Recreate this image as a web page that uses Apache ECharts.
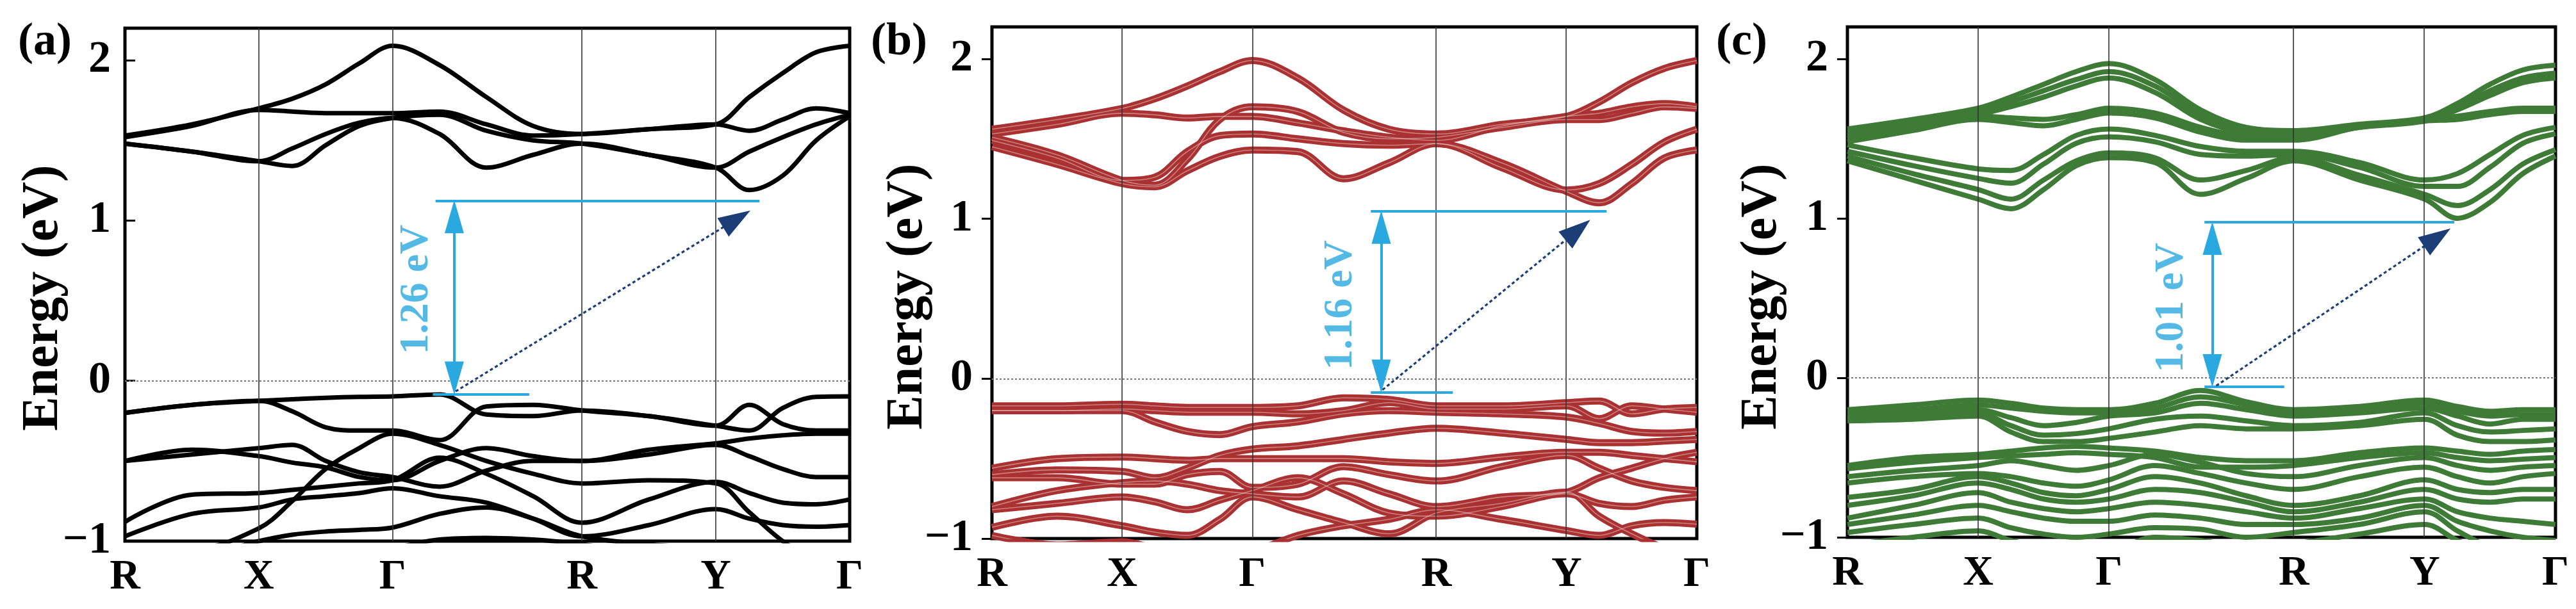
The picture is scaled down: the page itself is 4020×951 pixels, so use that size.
<!DOCTYPE html>
<html><head><meta charset="utf-8">
<script src="https://cdn.jsdelivr.net/npm/echarts@6/dist/echarts.min.js"></script>
<style>html,body{margin:0;padding:0;background:#fff;}#chart{width:4020px;height:951px;}</style>
</head><body><div id="chart"></div>
<script>
// k-path sample points (path length units: R-X=1, X-G=1, G-R=1.414, R-Y=1, Y-G=1)
const K = [0, 0.5, 1, 1.25, 1.5, 1.75, 2, 2.35, 2.7, 3.05, 3.414, 3.914, 4.414, 4.664, 4.914, 5.164, 5.414];
const KPOS = [0, 1, 2, 3.414, 4.414, 5.414];
const KLABELS = ['R', 'X', 'Γ', 'R', 'Y', 'Γ'];
const YTICKS = [-1, 0, 1, 2];
const PANEL_LABELS = ['(a)', '(b)', '(c)'];
const Y_TITLE = 'Energy (eV)';
const COLORS = ['#000000', '#A93131', '#3E7B36'];

// Panel (a) bands
const A_CB = [
  [1.53,1.60,1.70,1.76,1.85,1.98,2.09,1.97,1.77,1.59,1.54,1.57,1.60,1.77,1.92,2.05,2.09],
  [1.52,1.59,1.69,1.68,1.67,1.67,1.67,1.68,1.60,1.53,1.54,1.57,1.60,1.56,1.63,1.70,1.67],
  [1.48,1.43,1.37,1.45,1.54,1.61,1.64,1.54,1.33,1.41,1.48,1.41,1.33,1.19,1.28,1.50,1.65],
  [1.48,1.43,1.37,1.34,1.47,1.59,1.64,1.66,1.56,1.50,1.48,1.41,1.33,1.43,1.52,1.60,1.66]
];
const A_VB = [
  [-0.20,-0.15,-0.125,-0.115,-0.106,-0.10,-0.097,-0.085,-0.21,-0.22,-0.185,-0.22,-0.28,-0.31,-0.17,-0.10,-0.097],
  [-0.20,-0.15,-0.125,-0.19,-0.29,-0.31,-0.31,-0.37,-0.16,-0.15,-0.185,-0.22,-0.28,-0.15,-0.27,-0.31,-0.31],
  [-0.50,-0.43,-0.47,-0.51,-0.54,-0.60,-0.62,-0.50,-0.42,-0.47,-0.50,-0.43,-0.39,-0.36,-0.34,-0.33,-0.33],
  [-0.50,-0.46,-0.42,-0.40,-0.50,-0.57,-0.60,-0.66,-0.56,-0.50,-0.50,-0.46,-0.40,-0.47,-0.55,-0.60,-0.60],
  [-0.88,-0.71,-0.70,-0.68,-0.66,-0.64,-0.62,-0.48,-0.58,-0.72,-0.885,-0.74,-0.63,-0.70,-0.76,-0.77,-0.74],
  [-0.97,-0.83,-0.79,-0.74,-0.72,-0.70,-0.67,-0.72,-0.76,-0.86,-0.97,-0.90,-0.80,-0.86,-0.90,-0.91,-0.90],
  [-1.05,-1.05,-0.92,-0.75,-0.55,-0.42,-0.33,-0.40,-0.50,-0.58,-0.64,-0.62,-0.64,-0.82,-1.00,-1.12,-1.18],
  [-1.10,-1.10,-1.00,-0.96,-0.94,-0.93,-0.915,-0.83,-0.79,-0.86,-0.97,-1.02,-1.05,-1.08,-1.10,-1.10,-1.10],
  [-1.20,-1.15,-1.08,-1.10,-1.12,-1.12,-1.05,-0.99,-0.98,-0.99,-1.02,-1.08,-1.10,-1.10,-1.12,-1.15,-1.15]
];

// Panel (b) bands
const B_CB = [
  [1.56,1.62,1.69,1.75,1.83,1.92,1.99,1.88,1.68,1.56,1.53,1.59,1.64,1.73,1.85,1.94,1.99],
  [1.53,1.59,1.66,1.65,1.63,1.64,1.64,1.60,1.55,1.51,1.49,1.58,1.64,1.66,1.70,1.72,1.70],
  [1.51,1.40,1.24,1.21,1.37,1.62,1.70,1.67,1.54,1.50,1.51,1.57,1.62,1.62,1.66,1.70,1.69],
  [1.45,1.34,1.22,1.20,1.30,1.39,1.43,1.42,1.25,1.35,1.47,1.35,1.17,1.10,1.22,1.38,1.43],
  [1.49,1.38,1.24,1.26,1.42,1.52,1.53,1.50,1.47,1.46,1.47,1.32,1.18,1.22,1.34,1.48,1.56]
];
const B_VB = [
  [-0.17,-0.17,-0.16,-0.17,-0.18,-0.18,-0.18,-0.17,-0.12,-0.13,-0.17,-0.17,-0.15,-0.14,-0.22,-0.19,-0.18],
  [-0.20,-0.20,-0.19,-0.20,-0.21,-0.21,-0.21,-0.22,-0.20,-0.15,-0.19,-0.19,-0.17,-0.25,-0.17,-0.19,-0.21],
  [-0.20,-0.20,-0.20,-0.27,-0.33,-0.35,-0.30,-0.27,-0.22,-0.20,-0.21,-0.22,-0.24,-0.28,-0.33,-0.34,-0.33],
  [-0.56,-0.50,-0.49,-0.50,-0.51,-0.50,-0.50,-0.50,-0.50,-0.52,-0.53,-0.49,-0.46,-0.46,-0.48,-0.50,-0.52],
  [-0.60,-0.57,-0.58,-0.62,-0.56,-0.48,-0.44,-0.42,-0.38,-0.34,-0.31,-0.34,-0.38,-0.40,-0.40,-0.39,-0.38],
  [-0.62,-0.62,-0.66,-0.66,-0.60,-0.58,-0.68,-0.66,-0.55,-0.60,-0.64,-0.55,-0.48,-0.56,-0.64,-0.68,-0.70],
  [-0.80,-0.70,-0.65,-0.64,-0.66,-0.70,-0.72,-0.74,-0.64,-0.72,-0.80,-0.74,-0.71,-0.62,-0.56,-0.50,-0.46],
  [-0.82,-0.78,-0.74,-0.77,-0.82,-0.76,-0.70,-0.62,-0.72,-0.84,-0.86,-0.80,-0.72,-0.78,-0.80,-0.76,-0.74],
  [-0.93,-0.86,-0.92,-0.96,-0.98,-0.88,-0.74,-0.82,-0.90,-0.97,-0.84,-0.78,-0.71,-0.86,-0.97,-1.06,-1.12],
  [-0.98,-1.04,-1.02,-1.06,-1.10,-1.10,-1.08,-0.98,-0.92,-0.88,-0.82,-0.88,-0.95,-0.98,-0.92,-0.90,-0.91]
];

// Panel (c) bands
const C_CB = [
  [1.56,1.62,1.69,1.76,1.84,1.92,1.97,1.87,1.68,1.57,1.55,1.59,1.63,1.72,1.84,1.93,1.96],
  [1.54,1.60,1.67,1.73,1.80,1.87,1.92,1.83,1.65,1.55,1.53,1.58,1.62,1.70,1.80,1.88,1.91],
  [1.52,1.58,1.65,1.70,1.76,1.83,1.88,1.79,1.62,1.53,1.51,1.57,1.61,1.68,1.77,1.85,1.88],
  [1.50,1.57,1.64,1.63,1.62,1.65,1.69,1.66,1.57,1.51,1.50,1.58,1.62,1.64,1.67,1.69,1.69],
  [1.48,1.55,1.62,1.60,1.58,1.62,1.66,1.63,1.54,1.49,1.49,1.57,1.61,1.62,1.65,1.67,1.67],
  [1.46,1.38,1.31,1.30,1.40,1.52,1.56,1.52,1.45,1.42,1.42,1.35,1.24,1.28,1.40,1.52,1.57],
  [1.42,1.33,1.25,1.22,1.34,1.47,1.51,1.48,1.40,1.39,1.40,1.32,1.20,1.20,1.32,1.47,1.53],
  [1.39,1.28,1.18,1.12,1.24,1.36,1.41,1.38,1.24,1.30,1.38,1.27,1.15,1.08,1.18,1.34,1.43],
  [1.36,1.24,1.12,1.06,1.18,1.33,1.38,1.35,1.15,1.25,1.36,1.24,1.12,1.00,1.10,1.28,1.39]
];
const C_VB = [
  [-0.20,-0.17,-0.14,-0.16,-0.19,-0.20,-0.20,-0.16,-0.08,-0.15,-0.20,-0.18,-0.14,-0.18,-0.21,-0.20,-0.20],
  [-0.22,-0.20,-0.17,-0.19,-0.21,-0.22,-0.22,-0.19,-0.12,-0.17,-0.22,-0.20,-0.16,-0.21,-0.24,-0.23,-0.23],
  [-0.25,-0.22,-0.20,-0.25,-0.30,-0.28,-0.24,-0.22,-0.16,-0.20,-0.24,-0.22,-0.19,-0.24,-0.29,-0.26,-0.26],
  [-0.26,-0.24,-0.22,-0.30,-0.36,-0.35,-0.32,-0.26,-0.24,-0.27,-0.30,-0.28,-0.22,-0.30,-0.34,-0.33,-0.32],
  [-0.27,-0.26,-0.24,-0.34,-0.40,-0.40,-0.38,-0.34,-0.30,-0.32,-0.32,-0.30,-0.26,-0.36,-0.40,-0.40,-0.39],
  [-0.55,-0.50,-0.48,-0.46,-0.44,-0.43,-0.44,-0.46,-0.50,-0.52,-0.52,-0.47,-0.44,-0.46,-0.48,-0.46,-0.45],
  [-0.57,-0.53,-0.50,-0.49,-0.48,-0.47,-0.48,-0.50,-0.56,-0.56,-0.55,-0.50,-0.47,-0.50,-0.52,-0.51,-0.50],
  [-0.62,-0.58,-0.55,-0.52,-0.55,-0.58,-0.55,-0.48,-0.53,-0.60,-0.62,-0.55,-0.50,-0.55,-0.58,-0.56,-0.55],
  [-0.66,-0.62,-0.60,-0.62,-0.66,-0.68,-0.64,-0.55,-0.60,-0.66,-0.70,-0.62,-0.56,-0.62,-0.66,-0.62,-0.60],
  [-0.75,-0.70,-0.62,-0.66,-0.72,-0.74,-0.70,-0.62,-0.66,-0.74,-0.80,-0.74,-0.64,-0.70,-0.72,-0.70,-0.70],
  [-0.80,-0.74,-0.66,-0.70,-0.76,-0.78,-0.76,-0.70,-0.72,-0.78,-0.84,-0.78,-0.70,-0.76,-0.78,-0.76,-0.76],
  [-0.88,-0.80,-0.72,-0.78,-0.82,-0.84,-0.82,-0.78,-0.80,-0.84,-0.88,-0.82,-0.76,-0.84,-0.88,-0.90,-0.92],
  [-0.92,-0.86,-0.80,-0.84,-0.88,-0.90,-0.90,-0.86,-0.88,-0.92,-0.92,-0.88,-0.80,-0.90,-0.96,-1.00,-1.02],
  [-0.97,-0.92,-0.88,-0.94,-0.98,-1.00,-0.98,-0.94,-0.95,-1.00,-0.97,-0.92,-0.84,-0.96,-1.06,-1.10,-1.12],
  [-1.05,-1.00,-0.96,-1.02,-1.06,-1.08,-1.08,-1.00,-1.02,-1.06,-1.04,-0.98,-0.92,-1.02,-1.10,-1.15,-1.15]
];

// Band-gap annotations (k, eV)
const GAP_TEXT = ['1.26 eV', '1.16 eV', '1.01 eV'];
const GAP_TEXT_POS = [[2.18, 0.57], [2.68, 0.46], [2.48, 0.44]];
const GAP_ARROW_K = [2.46, 2.99, 2.79];
const CBM_E = [1.124, 1.047, 0.975];
const VBM_E = [-0.083, -0.085, -0.056];
const CBM_LINE_K = [[2.32, 4.74], [2.91, 4.72], [2.73, 4.64]];
const VBM_LINE_K = [[2.30, 3.02], [2.91, 3.54], [2.73, 3.34]];
const DOT_FROM = [[2.47, -0.066], [3.00, -0.07], [2.82, -0.05]];
const DOT_TO = [[4.57, 1.01], [4.50, 0.93], [4.51, 0.88]];

const FONT = '"Liberation Serif", "Times New Roman", serif';
const LIGHT_BLUE = '#2AA8E0';
const NAVY = '#1C3D75';
const GRIDS = [
  {left: 195, top: 44, width: 1131, height: 801},
  {left: 1548, top: 42, width: 1100, height: 799},
  {left: 2883, top: 42, width: 1105, height: 797}
];
const LABEL_POS = [[70, 66], [1403, 66], [2718, 66]];
const YTITLE_POS = [[68, 465], [1417, 463], [2750, 463]];
const ARROW_HALF = 0.1;

const chart = echarts.init(document.getElementById('chart'));
const series = [];
const toPts = arr => K.map((k, i) => [k, arr[i]]);

function addBand(g, arr, color, width, doubled) {
  series.push({type: 'line', xAxisIndex: g, yAxisIndex: g, data: toPts(arr), smooth: 0.35,
    showSymbol: false, silent: true, z: 2, lineStyle: {color: color, width: width}});
  if (doubled) {
    series.push({type: 'line', xAxisIndex: g, yAxisIndex: g, data: toPts(arr), smooth: 0.35,
      showSymbol: false, silent: true, z: 3, lineStyle: {color: 'rgba(255,236,236,0.42)', width: 1.6}});
  }
}

const PANELS = [[A_CB, A_VB], [B_CB, B_VB], [C_CB, C_VB]];
const WIDTHS = [7, 11, 8];
PANELS.forEach((p, g) => {
  series.push({type: 'line', xAxisIndex: g, yAxisIndex: g, data: [], silent: true, z: 1,
    markLine: {silent: true, symbol: ['none', 'none'], label: {show: false}, animation: false,
      data: KPOS.slice(1, 5).map(v => ({xAxis: v, lineStyle: {color: '#333', width: 1.6, type: 'solid'}}))
        .concat([{yAxis: 0, lineStyle: {color: '#777', width: 2, type: [3, 3]}}])}});
  p[0].concat(p[1]).forEach(arr => addBand(g, arr, COLORS[g], WIDTHS[g], g === 1));
  const k = GAP_ARROW_K[g];
  series.push({type: 'line', xAxisIndex: g, yAxisIndex: g, data: [], silent: true, z: 6,
    markLine: {silent: true, label: {show: false}, animation: false, symbol: ['none', 'none'],
      data: [
        [{coord: [CBM_LINE_K[g][0], CBM_E[g]], lineStyle: {color: LIGHT_BLUE, width: 4, type: 'solid'}},
         {coord: [CBM_LINE_K[g][1], CBM_E[g]]}],
        [{coord: [VBM_LINE_K[g][0], VBM_E[g]], lineStyle: {color: LIGHT_BLUE, width: 4, type: 'solid'}},
         {coord: [VBM_LINE_K[g][1], VBM_E[g]]}],
        [{coord: [k, CBM_E[g] - ARROW_HALF], symbol: 'triangle', symbolSize: [30, 52],
          lineStyle: {color: LIGHT_BLUE, width: 4, type: 'solid'}, itemStyle: {color: LIGHT_BLUE}},
         {coord: [k, VBM_E[g] + ARROW_HALF], symbol: 'triangle', symbolSize: [30, 52]}],
        [{coord: DOT_FROM[g], symbol: 'none', lineStyle: {color: NAVY, width: 3.2, type: [5, 4]}, itemStyle: {color: NAVY}},
         {coord: DOT_TO[g], symbol: 'triangle', symbolSize: [34, 50]}]
      ]}});
  series.push({type: 'scatter', xAxisIndex: g, yAxisIndex: g, data: [GAP_TEXT_POS[g]], symbolSize: 1,
    itemStyle: {color: 'rgba(0,0,0,0)'}, silent: true, z: 7,
    label: {show: true, position: 'inside', formatter: GAP_TEXT[g], rotate: 90, color: LIGHT_BLUE,
      fontSize: 64, fontWeight: 'bold', fontFamily: FONT}});
});

const option = {
  animation: false,
  backgroundColor: '#fff',
  grid: GRIDS.map(r => Object.assign({show: true, borderColor: '#000', borderWidth: 5, backgroundColor: 'transparent', containLabel: false}, r)),
  xAxis: GRIDS.map((r, g) => ({gridIndex: g, type: 'value', min: KPOS[0], max: KPOS[KPOS.length - 1],
    axisLine: {show: false}, axisTick: {show: false}, splitLine: {show: false},
    axisLabel: {customValues: KPOS, color: '#000', fontSize: 66, fontWeight: 'bold', fontFamily: FONT, margin: 24,
      formatter: v => KLABELS[KPOS.findIndex(p => Math.abs(p - v) < 1e-6)] || ''}})),
  yAxis: GRIDS.map((r, g) => ({gridIndex: g, type: 'value', min: -1, max: 2.2, interval: 1,
    axisLine: {show: false}, splitLine: {show: false},
    axisTick: {show: true, inside: g === 0, length: 16, customValues: YTICKS, lineStyle: {color: '#000', width: 3}},
    axisLabel: {customValues: YTICKS, color: '#000', fontSize: 70, fontWeight: 'bold', fontFamily: FONT,
      margin: g === 0 ? 22 : 30, formatter: v => (v < 0 ? '\u2212' + Math.abs(v) : String(v))}})),
  graphic: PANEL_LABELS.map((t, i) => ({type: 'text', x: LABEL_POS[i][0], y: LABEL_POS[i][1], z: 10,
    style: {text: t, fill: '#000', font: 'bold 72px ' + FONT, textAlign: 'center', textVerticalAlign: 'middle'}}))
    .concat(YTITLE_POS.map(p => ({type: 'text', x: p[0], y: p[1], rotation: Math.PI / 2, z: 10,
      style: {text: Y_TITLE, fill: '#000', font: 'bold 80px ' + FONT, textAlign: 'center', textVerticalAlign: 'middle'}}))),
  series: series
};
chart.setOption(option);
</script></body></html>
